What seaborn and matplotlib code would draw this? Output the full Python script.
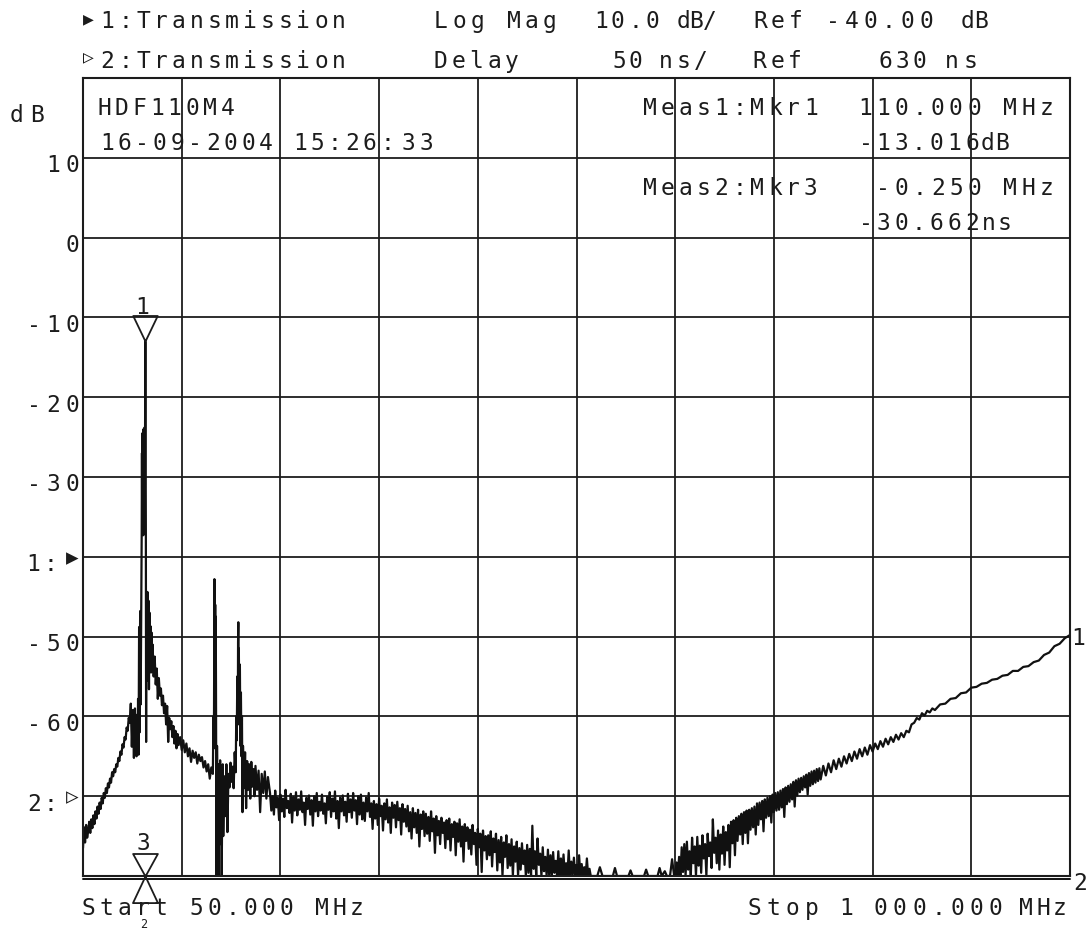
import numpy as np
import matplotlib.pyplot as plt
import matplotlib.transforms as mtransforms
import seaborn as sns

# analyser set-up as printed on the screen
START_MHZ = 50.0
STOP_MHZ = 1000.0
DB_PER_DIV = 10.0
DB_REF = -40.0        # trace 1 reference, at the "1:" arrow (4 div above bottom)
NS_PER_DIV = 50.0
NS_REF = 630.0        # trace 2 reference, at the "2:" arrow (1 div above bottom)

# trace 1: transmission, log mag (dB) in pieces.
# points that sit on the bottom edge of the screen are given as -80
rise_mhz = [
    50, 51, 52, 53, 54, 55, 56, 57, 58, 59,
    60, 61, 62, 63, 64, 65, 66, 67, 68, 69,
    70, 71, 72, 73, 74, 75, 76, 77, 78, 79,
    80, 81, 82, 83, 84, 85, 86, 87, 88, 89,
    90, 91, 92, 93, 94, 95, 96, 97, 98, 99,
    100, 100.5, 101, 101.5, 102, 102.5, 103, 103.5, 104, 104.5,
    105, 105.5, 106, 106.5, 106.75, 107, 107.25, 107.5, 107.75, 108,
    108.25, 108.5, 108.75, 109, 109.25, 109.5, 109.75, 110, 110.25, 110.5,
    110.75, 111, 111.5, 112, 112.5, 113, 113.5, 114, 114.5, 115,
    115.5, 116, 116.5, 117, 118, 119, 120, 121, 122, 123,
    124, 125, 126, 127, 128, 129, 130, 131, 132, 133,
    134, 135, 136, 137, 138, 139, 140, 141, 142, 143.5,
    145, 146.5, 148, 149.5, 151, 152.5, 154, 155.5, 157, 158.5,
    160, 161.5, 163, 164.5, 166, 167.5, 169, 170.5, 172, 173.5,
    175, 175.5, 176, 176.5, 177, 177.25, 177.5, 177.75, 178, 178.5,
    179, 179.5, 180, 180.5, 181, 181.5, 182, 182.5, 183, 183.5,
    184, 184.5, 185, 186, 187, 188, 189, 190, 191, 192,
    193, 194, 195, 196, 197, 197.5, 198, 198.5, 199, 199.25,
    199.5, 199.75, 200, 200.5, 201, 201.5, 202, 202.5, 203, 203.5,
    204, 205, 206, 207, 208, 209, 210, 211, 212, 213,
    214, 215, 216, 217.5, 219, 220.5, 222, 223.5, 225, 226.5,
    228,
]
rise_db = [
    -76.5, -73.9, -75.8, -73.6, -75.2, -74.4, -73.2, -74.6, -72.9, -74.0,
    -72.4, -73.5, -71.9, -72.8, -71.3, -72.2, -70.8, -71.6, -70.2, -70.9,
    -69.6, -70.2, -69.0, -69.6, -68.4, -68.9, -67.8, -68.3, -67.0, -67.5,
    -66.6, -67.0, -66.0, -66.3, -65.2, -65.6, -64.4, -64.8, -63.5, -63.9,
    -62.6, -62.9, -61.4, -61.8, -60.2, -60.8, -58.4, -63.8, -59.2, -65.2,
    -59.0, -64.5, -59.8, -65.0, -60.2, -63.6, -57.8, -64.8, -48.8, -62.0,
    -46.8, -58.5, -47.5, -37.0, -27.0, -36.5, -24.5, -35.0, -25.5, -37.3,
    -24.0, -33.0, -26.5, -36.0, -23.8, -34.5, -25.0, -13.0, -26.0, -37.0,
    -63.2, -46.0, -55.5, -44.4, -53.0, -45.5, -56.6, -47.0, -52.0, -48.7,
    -54.5, -49.5, -53.5, -51.0, -55.0, -52.5, -56.0, -54.0, -57.8, -55.2,
    -57.4, -56.5, -58.6, -57.4, -59.6, -58.4, -61.0, -58.7, -63.2, -60.2,
    -61.6, -60.6, -62.6, -61.2, -63.4, -61.8, -64.0, -62.2, -63.6, -62.6,
    -64.2, -63.0, -64.5, -63.4, -65.0, -64.0, -65.7, -64.3, -65.2, -64.5,
    -65.9, -64.8, -65.6, -65.1, -66.4, -65.6, -66.9, -66.0, -67.8, -66.4,
    -67.2, -60.0, -64.0, -42.8, -58.0, -46.0, -60.0, -47.5, -56.0, -80.0,
    -63.7, -70.0, -66.0, -80.0, -68.0, -74.0, -65.5, -76.0, -69.0, -80.0,
    -71.0, -66.0, -75.0, -67.5, -72.5, -66.0, -74.5, -67.2, -68.9, -65.8,
    -68.2, -66.3, -69.0, -64.5, -67.0, -60.0, -63.0, -55.0, -61.0, -50.7,
    -48.2, -56.0, -51.5, -61.0, -53.5, -63.7, -57.0, -65.0, -60.0, -72.0,
    -63.7, -69.0, -64.5, -71.5, -65.6, -69.2, -66.0, -70.3, -65.7, -68.8,
    -66.6, -70.0, -66.2, -69.2, -66.8, -72.0, -67.2, -69.6, -66.9, -70.3,
    -67.6,
]

# noise floor sagging towards the bottom of the screen
floor_mhz = [
    230, 231.25, 232.5, 233.75, 235, 236.25, 237.5, 238.75,
    240, 241.25, 242.5, 243.75, 245, 246.25, 247.5, 248.75,
    250, 251.25, 252.5, 253.75, 255, 256.25, 257.5, 258.75,
    260, 261.25, 262.5, 263.75, 265, 266.25, 267.5, 268.75,
    270, 271.25, 272.5, 273.75, 275, 276.25, 277.5, 278.75,
    280, 281.25, 282.5, 283.75, 285, 286.25, 287.5, 288.75,
    290, 291.25, 292.5, 293.75, 295, 296.25, 297.5, 298.75,
    300, 301.25, 302.5, 303.75, 305, 306.25, 307.5, 308.75,
    310, 311.25, 312.5, 313.75, 315, 316.25, 317.5, 318.75,
    320, 321.25, 322.5, 323.75, 325, 326.25, 327.5, 328.75,
    330, 331.25, 332.5, 333.75, 335, 336.25, 337.5, 338.75,
    340, 341.25, 342.5, 343.75, 345, 346.25, 347.5, 348.75,
    350, 351.25, 352.5, 353.75, 355, 356.25, 357.5, 358.75,
    360, 361.25, 362.5, 363.75, 365, 366.25, 367.5, 368.75,
    370, 371.25, 372.5, 373.75, 375, 376.25, 377.5, 378.75,
    380, 381.25, 382.5, 383.75, 385, 386.25, 387.5, 388.75,
    390, 391.25, 392.5, 393.75, 395, 396.25, 397.5, 398.75,
    400, 401.25, 402.5, 403.75, 405, 406.25, 407.5, 408.75,
    410, 411.25, 412.5, 413.75, 415, 416.25, 417.5, 418.75,
    420, 421.25, 422.5, 423.75, 425, 426.25, 427.5, 428.75,
    430, 431.25, 432.5, 433.75, 435, 436.25, 437.5, 438.75,
    440, 441.25, 442.5, 443.75, 445, 446.25, 447.5, 448.75,
    450, 451.25, 452.5, 453.75, 455, 456.25, 457.5, 458.75,
    460, 461.25, 462.5, 463.75, 465, 466.25, 467.5, 468.75,
    470, 471.25, 472.5, 473.75, 475, 476.25, 477.5, 478.75,
    480, 481.25, 482.5, 483.75, 485, 486.25, 487.5, 488.75,
    490, 491.25, 492.5, 493.75, 495, 496.25, 497.5, 498.75,
    500, 501.25, 502.5, 503.75, 505, 506.25, 507.5, 508.75,
    510, 511.25, 512.5, 513.75, 515, 516.25, 517.5, 518.75,
    520, 521.25, 522.5, 523.75, 525, 526.25, 527.5, 528.75,
    530, 531.25, 532.5, 533.75, 535, 536.25, 537.5, 538.75,
]
floor_db = [
    -69.6, -71.8, -70.0, -72.3, -69.3, -71.4, -70.2, -73.0,
    -69.8, -71.9, -70.3, -72.6, -69.2, -71.5, -70.6, -72.1,
    -69.7, -73.3, -70.1, -71.8, -69.5, -72.4, -70.4, -71.7,
    -69.4, -72.0, -70.8, -73.6, -70.2, -71.6, -69.9, -72.3,
    -70.5, -73.7, -70.0, -71.9, -69.6, -72.5, -70.7, -71.8,
    -69.8, -72.2, -70.9, -73.4, -70.1, -71.7, -69.5, -72.6,
    -70.3, -71.9, -69.4, -72.8, -70.6, -74.0, -70.2, -71.9,
    -69.9, -72.4, -70.7, -73.2, -69.7, -72.0, -70.4, -72.7,
    -69.6, -71.8, -70.5, -73.5, -70.0, -72.3, -69.8, -72.9,
    -70.8, -73.1, -70.2, -71.9, -69.6, -72.6, -70.9, -74.1,
    -70.6, -72.8, -71.0, -73.6, -70.3, -72.5, -71.2, -74.3,
    -70.9, -72.9, -70.4, -73.3, -71.4, -74.6, -70.8, -72.7,
    -71.1, -73.9, -70.7, -73.0, -71.5, -74.8, -71.0, -73.2,
    -71.6, -73.8, -71.2, -74.4, -72.0, -75.3, -71.5, -73.9,
    -72.1, -74.6, -71.7, -76.3, -72.3, -74.1, -71.9, -75.0,
    -72.2, -74.7, -72.6, -75.6, -71.9, -74.4, -72.8, -77.1,
    -72.5, -74.9, -73.1, -76.0, -72.7, -74.6, -73.3, -76.5,
    -73.0, -75.4, -72.8, -76.8, -73.5, -75.1, -73.2, -77.4,
    -73.4, -75.7, -72.9, -76.3, -73.8, -78.2, -73.5, -75.6,
    -73.9, -76.6, -74.2, -77.3, -73.6, -76.0, -74.6, -78.6,
    -74.1, -76.4, -74.7, -79.5, -74.3, -76.8, -75.0, -77.9,
    -74.9, -77.4, -74.4, -78.8, -75.3, -77.0, -74.7, -79.3,
    -75.5, -78.3, -75.1, -80.0, -75.8, -77.6, -74.9, -79.0,
    -76.0, -78.7, -75.4, -80.0, -76.3, -78.2, -75.7, -80.0,
    -76.5, -79.2, -75.9, -78.5, -76.8, -80.0, -76.1, -79.6,
    -76.6, -80.0, -73.7, -79.1, -76.9, -80.0, -75.3, -78.6,
    -77.2, -80.0, -76.4, -79.4, -77.6, -80.0, -76.7, -80.0,
    -77.4, -80.0, -77.0, -79.6, -78.1, -80.0, -76.9, -80.0,
    -77.8, -80.0, -77.3, -79.9, -78.4, -80.0, -76.8, -80.0,
    -78.2, -80.0, -77.7, -80.0, -78.6, -80.0, -77.4, -80.0,
    -78.5, -80.0, -78.9, -80.0, -77.8, -80.0, -79.1, -80.0,
]

# the notch: trace lies on the bottom edge, a few specks above it
null_mhz = [
    540, 545, 547.5, 550, 555, 560, 562, 564, 575, 577,
    579, 590, 592, 594, 603, 605, 607, 610, 612, 615,
    617, 619,
]
null_db = [
    -80.0, -80.0, -78.9, -80.0, -80.0, -80.0, -79.0, -80.0, -80.0, -79.3,
    -80.0, -80.0, -79.2, -80.0, -80.0, -79.0, -80.0, -79.4, -80.0, -80.0,
    -77.9, -80.0,
]

# noisy climb out of the notch
climb_mhz = [
    620, 621.25, 622.5, 623.75, 625, 626.25, 627.5, 628.75,
    630, 631.25, 632.5, 633.75, 635, 636.25, 637.5, 638.75,
    640, 641.25, 642.5, 643.75, 645, 646.25, 647.5, 648.75,
    650, 651.25, 652.5, 653.75, 655, 656.25, 657.5, 658.75,
    660, 661.25, 662.5, 663.75, 665, 666.25, 667.5, 668.75,
    670, 671.25, 672.5, 673.75, 675, 676.25, 677.5, 678.75,
    680, 681.25, 682.5, 683.75, 685, 686.25, 687.5, 688.75,
    690, 691.25, 692.5, 693.75, 695, 696.25, 697.5, 698.75,
    700, 701.25, 702.5, 703.75, 705, 706.25, 707.5, 708.75,
    710, 711.25, 712.5, 713.75, 715, 716.25, 717.5, 718.75,
    720, 721.25, 722.5, 723.75, 725, 726.25, 727.5, 728.75,
    730, 731.25, 732.5, 733.75, 735, 736.25, 737.5, 738.75,
    740, 741.25, 742.5, 743.75, 745, 746.25, 747.5, 748.75,
    750, 751.25, 752.5, 753.75, 755, 756.25, 757.5, 758.75,
]
climb_db = [
    -80.0, -78.3, -80.0, -77.6, -80.0, -76.4, -79.5, -76.0,
    -80.0, -75.7, -79.2, -76.9, -80.0, -75.2, -78.4, -76.3,
    -80.0, -75.1, -78.7, -76.2, -79.6, -74.9, -77.8, -76.0,
    -80.0, -74.7, -77.5, -75.8, -79.0, -72.9, -77.1, -75.2,
    -78.4, -74.3, -79.2, -74.8, -77.2, -73.8, -78.6, -74.5,
    -76.8, -73.6, -78.9, -73.2, -75.9, -73.0, -77.4, -72.7,
    -75.6, -72.5, -74.8, -72.2, -76.0, -72.0, -74.6, -71.8,
    -75.9, -71.7, -74.2, -71.5, -73.9, -71.3, -74.8, -70.9,
    -73.6, -70.8, -72.9, -70.6, -74.4, -70.4, -72.7, -70.2,
    -72.5, -70.0, -73.3, -69.8, -72.0, -69.6, -71.8, -69.5,
    -71.7, -69.3, -71.4, -69.1, -72.6, -68.9, -71.0, -68.7,
    -70.7, -68.5, -70.4, -68.2, -71.3, -68.0, -69.9, -67.8,
    -69.5, -67.7, -69.2, -67.5, -68.9, -67.3, -69.8, -67.1,
    -68.7, -66.9, -68.5, -66.8, -68.3, -66.6, -68.1, -66.5,
]

# upper band, cleaner as the level comes up
tail_mhz = [
    760, 762.5, 765, 767.5, 770, 772.5, 775, 777.5, 780, 782.5,
    785, 787.5, 790, 792.5, 795, 797.5, 800, 802.5, 805, 807.5,
    810, 812.5, 815, 817.5, 820, 822.5, 825, 827.5, 830, 832.5,
    835, 837.5, 840, 842.5, 845, 847.5, 850, 852.5, 855, 857.5,
    860, 862.5, 865, 867.5, 870, 875, 880, 885, 890, 895,
    900, 905, 910, 915, 920, 925, 930, 935, 940, 945,
    950, 955, 960, 965, 970, 975, 980, 985, 990, 995,
    1000,
]
tail_db = [
    -67.9, -66.2, -67.4, -65.9, -67.0, -65.5, -66.6, -65.3, -66.3, -65.0,
    -65.9, -64.7, -65.6, -64.4, -65.3, -64.1, -65.0, -63.9, -64.8, -63.6,
    -64.4, -63.4, -64.1, -63.1, -63.8, -62.8, -63.5, -62.6, -63.2, -62.3,
    -62.9, -62.1, -62.6, -61.8, -62.0, -61.0, -60.8, -60.2, -60.4, -59.6,
    -59.9, -59.3, -59.5, -59.0, -59.2, -58.5, -58.4, -57.8, -57.7, -57.1,
    -57.0, -56.4, -56.3, -55.9, -55.8, -55.4, -55.3, -54.9, -54.8, -54.3,
    -54.3, -53.8, -53.7, -53.2, -53.0, -52.3, -52.0, -51.2, -50.9, -50.2,
    -49.8,
]

trace1_mhz = rise_mhz + floor_mhz + null_mhz + climb_mhz + tail_mhz
trace1_db = rise_db + floor_db + null_db + climb_db + tail_db
assert len(trace1_mhz) == len(trace1_db)

# trace 2: delay is far under its scale, the analyser parks it just below the bottom edge
trace2_mhz = [50.0, 1000.0]
trace2_ns = [578.0, 578.0]

# markers
mkr1_mhz, mkr1_db = 110.0, -13.016
mkr2_mhz = 110.0
mkr3_mhz = 110.0 - 0.250

W, H = 1088, 929
INK = "#1c1c1c"
FS = 16.5

sns.set_theme(style="white")
plt.rcParams["font.family"] = ["DejaVu Sans Mono", "DejaVu Sans"]

fig = plt.figure(figsize=(W / 100, H / 100), dpi=100)
fig.patch.set_facecolor("white")
ax = fig.add_axes([83 / W, 1 - 877 / H, 987 / W, 798 / H])

db_bottom = DB_REF - 4 * DB_PER_DIV
db_top = DB_REF + 6 * DB_PER_DIV
ax.set_xlim(START_MHZ, STOP_MHZ)
ax.set_ylim(db_bottom, db_top)
ax.set_xticks([START_MHZ + k * (STOP_MHZ - START_MHZ) / 10 for k in range(11)])
ax.set_yticks([db_bottom + k * DB_PER_DIV for k in range(11)])
ax.grid(True, color=INK, lw=1.3)
ax.tick_params(length=0, labelbottom=False, labelleft=False)
for s in ax.spines.values():
    s.set_color(INK)
    s.set_linewidth(1.5)

sns.lineplot(x=trace1_mhz, y=trace1_db, ax=ax, color="#111111", lw=1.6,
             estimator=None, sort=False, legend=False)
ax.set_xlabel("")
ax.set_ylabel("")

# delay trace on its own scale
ax2 = ax.twinx()
ns_bottom = NS_REF - 1 * NS_PER_DIV
ax2.set_ylim(ns_bottom, NS_REF + 9 * NS_PER_DIV)
ax2.axis("off")
ax2.plot(trace2_mhz, trace2_ns, color="#111111", lw=1.4, clip_on=False)

# marker symbols, tip of the triangle on the marked point
down_tri = [(0, 0), (-0.48, 1), (0.48, 1), (0, 0)]
down_tri3 = [(0, 0), (-0.55, 1), (0.55, 1), (0, 0)]
up_tri = [(0, 0), (-0.47, -1), (0.47, -1), (0, 0)]
ax.plot([mkr1_mhz], [mkr1_db], marker=down_tri, ms=36.7, mfc="none",
        mec=INK, mew=1.3, clip_on=False)
ax2.plot([mkr3_mhz], [ns_bottom], marker=down_tri3, ms=32.4, mfc="none",
         mec=INK, mew=1.3, clip_on=False)
ax2.plot([mkr2_mhz], [ns_bottom], marker=up_tri, ms=38.3, mfc="none",
         mec=INK, mew=1.3, clip_on=False)
txt = dict(fontsize=FS, color=INK, ha="center", va="baseline", annotation_clip=False)
ax.annotate("1", xy=(mkr1_mhz, mkr1_db), xytext=(-3, 28.4), textcoords="offset pixels", **txt)
ax2.annotate("3", xy=(mkr3_mhz, ns_bottom), xytext=(-2, 27), textcoords="offset pixels", **txt)
# marker 2 label squeezed under its triangle, below the sweep start text
ax2.annotate("2", xy=(mkr2_mhz, ns_bottom), xytext=(-2, -51), textcoords="offset pixels",
             fontsize=8.5, color=INK, ha="center", va="baseline", annotation_clip=False)
ax.annotate("1", xy=(trace1_mhz[-1], trace1_db[-1]), xytext=(8, -8.5),
            textcoords="offset pixels", **txt)
ax2.annotate("2", xy=(trace2_mhz[-1], trace2_ns[-1]), xytext=(10, -10),
             textcoords="offset pixels", **txt)

# screen text: pixel positions from the top-left corner, fixed character pitch
pix = mtransforms.Affine2D().scale(1 / W, -1 / H).translate(0, 1) + fig.transFigure


def put_chars(x, y, text, pitch, transform=pix, size=FS, va="baseline"):
    for i, ch in enumerate(text):
        if ch != " ":
            fig.text(x + i * pitch, y, ch, transform=transform, ha="center", va=va,
                     fontsize=size, color=INK)


# header lines
put_chars(88.3, 19.5, "\u25b6", 0, size=13, va="center")
put_chars(107.5, 28.3, "1:Transmission", 17.8)
put_chars(440.7, 28.3, "Log Mag", 18.2)
put_chars(600.7, 28.3, "10.0", 17.1)
put_chars(683.3, 28.3, "dB/", 13.0)
put_chars(760.0, 28.3, "Ref", 17.9)
put_chars(833.0, 28.3, "-40.00", 18.6)
put_chars(968.0, 28.3, "dB", 12.5)

put_chars(88.3, 57.0, "\u25b7", 0, size=13, va="center")
put_chars(107.5, 68.3, "2:Transmission", 17.8)
put_chars(440.7, 68.3, "Delay", 17.75)
put_chars(619.0, 68.3, "50", 16.7)
put_chars(665.7, 68.3, "ns/", 17.5)
put_chars(759.0, 68.3, "Ref", 18.0)
put_chars(885.0, 68.3, "630", 17.0)
put_chars(952.0, 68.3, "ns", 18.5)

# title block and marker readouts inside the graticule
put_chars(104.0, 115.0, "HDF110M4", 17.6)
put_chars(106.7, 150.0, "16-09-2004", 17.67)
put_chars(300.0, 150.0, "15:26:", 17.4)
put_chars(408.3, 150.0, "33", 18.4)
put_chars(650.0, 115.0, "Meas1:Mkr1", 17.86)
put_chars(865.0, 115.0, "110.000 MHz", 18.17)
put_chars(865.7, 150.0, "-13.016", 17.7)
put_chars(987.3, 150.0, "dB", 14.4)
put_chars(650.0, 195.0, "Meas2:Mkr3", 17.86)
put_chars(883.3, 195.0, "-0.250 MHz", 18.15)
put_chars(865.7, 230.0, "-30.662", 17.7)
put_chars(988.3, 230.0, "ns", 16.0)

# y scale labels, right aligned against the graticule
put_chars(16.7, 121.7, "dB", 20.0)
ylab = mtransforms.blended_transform_factory(pix, ax.transData)
ylab_base = mtransforms.offset_copy(ylab, fig=fig, y=-13.5, units="dots")
for v in [10, 0, -10, -20, -30, -50, -60]:
    s = str(v)
    put_chars(72.5 - (len(s) - 1) * 19.5, v, s, 19.5, transform=ylab_base)
put_chars(33.3, DB_REF, "1:", 16.7, transform=ylab_base)
put_chars(72.5, DB_REF, "\u25b6", 0, transform=ylab, size=15, va="center")
put_chars(34.0, DB_REF - 3 * DB_PER_DIV, "2:", 16.0, transform=ylab_base)
put_chars(72.5, DB_REF - 3 * DB_PER_DIV, "\u25b7", 0, transform=ylab, size=15, va="center")

# sweep limits
put_chars(88.5, 915.0, "Start", 18.0)
put_chars(196.0, 915.0, "50.000", 18.0)
put_chars(322.0, 915.0, "MHz", 17.5)
put_chars(754.0, 915.0, "Stop", 19.3)
put_chars(846.0, 915.0, "1", 18.0)
put_chars(880.5, 915.0, "000.000", 19.2)
put_chars(1026.0, 915.0, "MHz", 17.0)

fig.savefig("out.png", dpi=100)
